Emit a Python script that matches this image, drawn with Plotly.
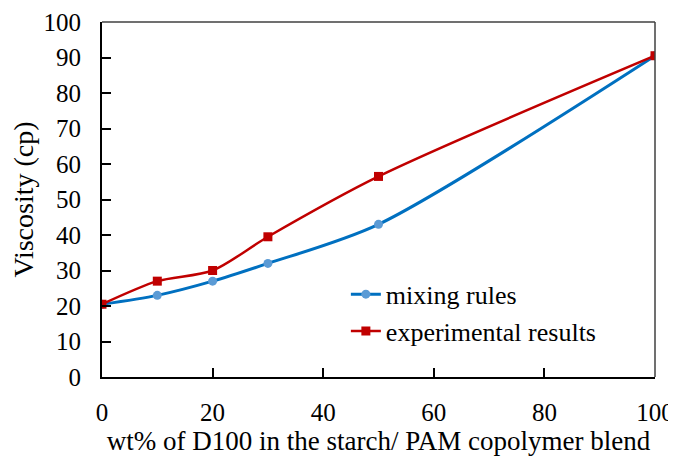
import plotly.graph_objects as go

wt = [0, 10, 20, 30, 50, 100]
mixing_rules = [20.5, 23, 27, 32, 43, 90.5]
experimental = [20.5, 27, 30, 39.5, 56.5, 90.5]

FONT = "Liberation Serif, Times New Roman, serif"

fig = go.Figure()
fig.add_trace(go.Scatter(
    x=wt, y=mixing_rules, name="mixing rules", mode="lines+markers",
    line=dict(color="#0070C0", width=3, shape="spline", smoothing=0.8),
    marker=dict(symbol="circle", size=9, color="#5B9BD5"),
))
fig.add_trace(go.Scatter(
    x=wt, y=experimental, name="experimental results", mode="lines+markers",
    line=dict(color="#C00000", width=2.5, shape="spline", smoothing=0.8),
    marker=dict(symbol="square", size=9, color="#C00000"),
))

fig.update_layout(
    template="none",
    width=668, height=448,
    margin=dict(l=94, r=21, t=14, b=79, autoexpand=False),
    paper_bgcolor="white", plot_bgcolor="white",
    font=dict(family=FONT, size=25, color="black"),
    showlegend=True,
    legend=dict(x=0.441, y=0.181, xanchor="left", yanchor="middle",
                bgcolor="rgba(0,0,0,0)", font=dict(family=FONT, size=26),
                itemwidth=30, tracegroupgap=4),
    xaxis=dict(range=[0, 100], tickvals=[0, 20, 40, 60, 80, 100], automargin=False,
               showgrid=False, zeroline=False, showline=True,
               linecolor="black", linewidth=2, ticks="inside", ticklen=9,
               tickwidth=2, tickcolor="black", ticklabelstandoff=12,
               title=dict(text="wt% of D100 in the starch/ PAM copolymer blend",
                          font=dict(family=FONT, size=27), standoff=6),
               tickfont=dict(family=FONT, size=25)),
    yaxis=dict(range=[0, 100], dtick=10, automargin=False,
               showgrid=False, zeroline=False, showline=True,
               linecolor="black", linewidth=2, ticks="inside", ticklen=9,
               tickwidth=2, tickcolor="black", ticklabelstandoff=14,
               title=dict(text="Viscosity (cp)", font=dict(family=FONT, size=28), standoff=8),
               tickfont=dict(family=FONT, size=25)),
)
fig.add_shape(type="line", xref="paper", yref="paper", x0=0, x1=1, y0=1, y1=1,
              line=dict(color="#404040", width=1.5))
fig.add_shape(type="line", xref="paper", yref="paper", x0=1, x1=1, y0=0, y1=1,
              line=dict(color="#404040", width=1.5))

fig.write_html("out.html")
